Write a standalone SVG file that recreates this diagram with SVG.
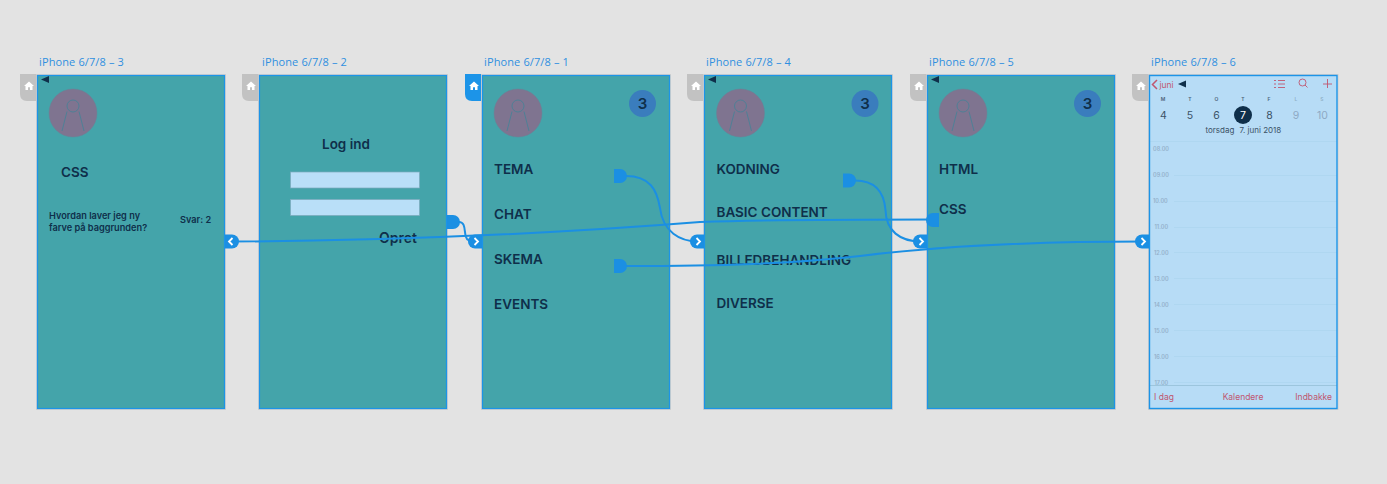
<svg xmlns="http://www.w3.org/2000/svg" width="1387" height="484" viewBox="0 0 1387 484">
<style>
.title{font:11px "Open Sans","Liberation Sans",sans-serif;fill:#2f8fe0;letter-spacing:.12px}
.frame{fill:#44a4aa;stroke:#1c94e8;stroke-width:1.2}
.outer{fill:none;stroke:#cfcfcf;stroke-width:1}
.h{font:600 13.500px Inter,"Liberation Sans",sans-serif;fill:#0f2f4a}
.s{font:600 9.200px Inter,"Liberation Sans",sans-serif;fill:#0f2f4a}
.hometab{fill:#c2c2c2}
.hometabon{fill:#1c94e8}
.home{fill:#fff}
.tri{fill:#0f2f4a}
.avatar{fill:#7f7490;stroke:#6f7f95;stroke-width:.5}
.fig{fill:none;stroke:#4f8096;stroke-width:1}
.badge{fill:#3a7dbd}
.bt{font:600 15px Inter,"Liberation Sans",sans-serif;fill:#0f2f4a;text-anchor:middle}
.field{fill:#b9dff8;stroke:#7ba9bd;stroke-width:.7}
.conn{fill:none;stroke:#1b8fe3;stroke-width:2}
.handle{fill:#1b8fe3}
.chev{fill:none;stroke:#fff;stroke-width:1.800}
.cal{fill:#b7dcf6}
.hr{stroke:#aad3ee;stroke-width:.6;fill:none}
.time{font:600 5.500px Inter,"Liberation Sans",sans-serif;fill:#94b1cb}
.day{font:600 5px Inter,"Liberation Sans",sans-serif;fill:#4d6478;text-anchor:middle}
.num{font:10.500px Inter,"Liberation Sans",sans-serif;fill:#3b5266;text-anchor:middle}
.red{font:8.500px Inter,"Liberation Sans",sans-serif;fill:#c0566f}
.redl{fill:none;stroke:#c0566f;stroke-width:.9}
.date{font:8px Inter,"Liberation Sans",sans-serif;fill:#3b5266}
</style>
<defs>
<path id="homeicon" d="M0-4.500 5 0H3.500V4H1V1.200H-1V4H-3.500V0H-5Z"/>
<g id="av">
<circle class="avatar" cx="0" cy="0" r="24"/>
<circle class="fig" cx="0" cy="-7" r="6"/>
<path class="fig" d="M-6 -1.500 L-11 18 M6 -1.500 L11 18"/>
</g>
<g id="backtab"><path class="hometab" d="M-17-1H0V26H-10Q-17 26-17 19Z"/><use href="#homeicon" class="home" x="-8" y="11"/></g>
<path id="tr" class="tri" d="M0 3.500 8 0V7Z"/>
<g id="fwd"><path class="handle" d="M0-7H-1a7 7 0 0 0 0 14H6V-7Z"/><path class="chev" d="M-1.500-3.500 2 0-1.500 3.500"/></g>
<path id="src" class="handle" d="M0-7H6a7 7 0 0 1 0 14H0Z"/>
</defs>
<rect width="1387" height="484" fill="#e3e3e3"/>

<g id="frame-3">
<text class="title" x="39" y="66">iPhone 6/7/8 – 3</text>
<use href="#backtab" x="37" y="75"/>
<rect class="outer" x="36.500" y="74.500" width="189" height="335"/>
<rect class="frame" x="37.500" y="75.500" width="187" height="333"/>
<use href="#tr" x="41" y="76"/>
<use href="#av" x="73" y="113"/>
<text class="h" x="61" y="177">CSS</text>
<text class="s" x="49" y="219">Hvordan laver jeg ny</text>
<text class="s" x="49" y="231">farve på baggrunden?</text>
<text class="s" x="180" y="223">Svar: 2</text>
</g>

<g id="frame-2">
<text class="title" x="262" y="66">iPhone 6/7/8 – 2</text>
<use href="#backtab" x="259" y="75"/>
<rect class="outer" x="258.500" y="74.500" width="189" height="335"/>
<rect class="frame" x="259.500" y="75.500" width="187" height="333"/>
<text class="h" x="322" y="149">Log ind</text>
<rect class="field" x="290.500" y="172" width="129" height="16"/>
<rect class="field" x="290.500" y="199.500" width="129" height="16"/>
<text class="h" x="379" y="243" style="font-size:14px">Opret</text>
</g>

<g id="frame-1">
<text class="title" x="484" y="66">iPhone 6/7/8 – 1</text>
<path class="hometabon" d="M465 74H482V101H472Q465 101 465 94Z"/>
<use href="#homeicon" class="home" x="474" y="86"/>
<rect class="outer" x="481.500" y="74.500" width="189" height="335"/>
<rect class="frame" x="482.500" y="75.500" width="187" height="333"/>
<use href="#av" x="518" y="113"/>
<circle class="badge" cx="642.500" cy="103.500" r="13.500"/>
<text class="bt" x="642.500" y="109">3</text>
<text class="h" x="494" y="174">TEMA</text>
<text class="h" x="494" y="219">CHAT</text>
<text class="h" x="494" y="264">SKEMA</text>
<text class="h" x="494" y="309">EVENTS</text>
</g>

<g id="frame-4">
<text class="title" x="706" y="66">iPhone 6/7/8 – 4</text>
<use href="#backtab" x="704" y="75"/>
<rect class="outer" x="703.500" y="74.500" width="189" height="335"/>
<rect class="frame" x="704.500" y="75.500" width="187" height="333"/>
<use href="#tr" x="708" y="76"/>
<use href="#av" x="740.500" y="113"/>
<circle class="badge" cx="865" cy="103.500" r="13.500"/>
<text class="bt" x="865" y="109">3</text>
<text class="h" x="716.500" y="174">KODNING</text>
<text class="h" x="716.500" y="217">BASIC CONTENT</text>
<text class="h" x="716.500" y="265">BILLEDBEHANDLING</text>
<text class="h" x="716.500" y="308">DIVERSE</text>
</g>

<g id="frame-5">
<text class="title" x="929" y="66">iPhone 6/7/8 – 5</text>
<use href="#backtab" x="927" y="75"/>
<rect class="outer" x="926.500" y="74.500" width="189" height="335"/>
<rect class="frame" x="927.500" y="75.500" width="187" height="333"/>
<use href="#tr" x="931" y="76"/>
<use href="#av" x="963" y="113"/>
<circle class="badge" cx="1087.500" cy="103.500" r="13.500"/>
<text class="bt" x="1087.500" y="109">3</text>
<text class="h" x="939" y="174">HTML</text>
<text class="h" x="939" y="214">CSS</text>
</g>

<g id="frame-6">
<text class="title" x="1151" y="66">iPhone 6/7/8 – 6</text>
<use href="#backtab" x="1149" y="75"/>
<rect class="outer" x="1148.500" y="74.500" width="189.500" height="335"/>
<rect class="cal" x="1150" y="75.500" width="187" height="333"/>
<path class="redl" style="stroke-width:1.500" d="M1157 80 1152.500 84.500 1157 89"/>
<text class="red" x="1159.500" y="87.500">juni</text>
<use href="#tr" x="1178" y="80.500"/>
<path class="redl" d="M1278 80.500h7M1278 84h7M1278 87.500h7M1274 80.500h2M1274 84h2M1274 87.500h2"/>
<circle class="redl" cx="1302.500" cy="82.500" r="3.500"/>
<path class="redl" d="M1305 85 1307.500 87.500M1323 84h9M1327.500 79v9"/>
<text class="day" x="1163" y="101">M</text><text class="day" x="1190" y="101">T</text><text class="day" x="1216.500" y="101">O</text><text class="day" x="1243" y="101">T</text><text class="day" x="1269" y="101">F</text><text class="day" x="1296" y="101" fill-opacity=".4">L</text><text class="day" x="1322" y="101" fill-opacity=".4">S</text>
<circle cx="1243" cy="115" r="9" fill="#0f2f4a"/>
<text class="num" x="1163.500" y="118.500">4</text><text class="num" x="1190" y="118.500">5</text><text class="num" x="1216.500" y="118.500">6</text><text class="num" x="1243" y="118.500" style="fill:#fff">7</text><text class="num" x="1269.500" y="118.500">8</text><text class="num" x="1296" y="118.500" style="fill:#8ea9c4">9</text><text class="num" x="1322.500" y="118.500" style="fill:#8ea9c4">10</text>
<text class="date" x="1205.500" y="133">torsdag</text>
<text class="date" x="1239.500" y="133">7. juni 2018</text>
<path class="hr" d="M1150 141.500H1337"/>
<path class="hr" d="M1174 175.500H1337M1174 201.500H1337M1174 227.500H1337M1174 252.500H1337M1174 278.500H1337M1174 304.500H1337M1174 330.500H1337M1174 356.500H1337M1174 382.500H1337"/>
<text class="time" x="1153" y="151">08.00</text>
<text class="time" x="1153" y="177">09.00</text>
<text class="time" x="1153" y="203">10.00</text>
<text class="time" x="1154.500" y="229">11.00</text>
<text class="time" x="1154" y="255">12.00</text>
<text class="time" x="1154" y="281">13.00</text>
<text class="time" x="1154" y="307">14.00</text>
<text class="time" x="1154" y="333">15.00</text>
<text class="time" x="1154" y="359">16.00</text>
<text class="time" x="1154.500" y="385">17.00</text>
<path d="M1150 385.500H1337" stroke="#9cc5dd" stroke-width="1"/>
<text class="red" x="1154" y="400">I dag</text>
<text class="red" x="1243" y="400" text-anchor="middle">Kalendere</text>
<text class="red" x="1332" y="400" text-anchor="end">Indbakke</text>
<rect x="1149.500" y="75.500" width="187.500" height="333" fill="none" stroke="#1c94e8" stroke-width="1.400"/>
</g>

<g id="connectors">
<path class="conn" d="M231 241.500C420 241 600 230 700 222C780 219.500 860 219.500 933 219.500"/>
<path class="conn" d="M459 222C466 222 464 232 466 237C467 241 472 241.500 476 241.500"/>
<path class="conn" d="M626 176C650 176 657 190 660 208C663 232 680 241.500 698 241.500"/>
<path class="conn" d="M626 266C720 266 790 264 860 256C950 245 1040 241.500 1143 241.500"/>
<path class="conn" d="M855 180.500C875 180.500 884 192 885.500 210C886 231 900 241.500 921 241.500"/>
<g transform="translate(231 241.500) scale(-1 1)"><use href="#fwd"/></g>
<use href="#src" x="447" y="222"/>
<use href="#fwd" x="476" y="241.500"/>
<use href="#src" x="614" y="176"/>
<use href="#fwd" x="698" y="241.500"/>
<use href="#src" x="614" y="266"/>
<use href="#src" x="843" y="180.500"/>
<use href="#fwd" x="921" y="241.500"/>
<g transform="translate(939 220) scale(-1 1)"><use href="#src"/></g>
<use href="#fwd" x="1143" y="241.500"/>
</g>
</svg>
